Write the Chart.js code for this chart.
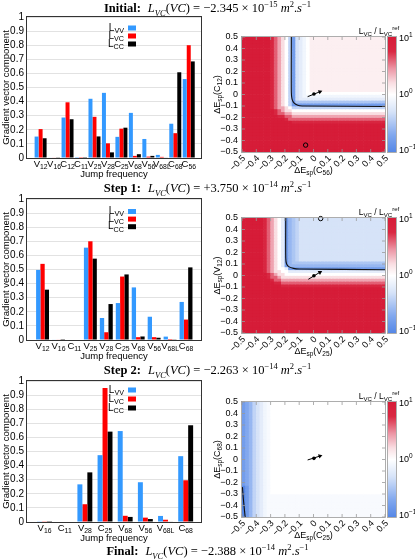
<!DOCTYPE html>
<html>
<head>
<meta charset="utf-8">
<script src="https://cdn.jsdelivr.net/npm/chart.js@4.4.0/dist/chart.umd.min.js"></script>
<style>
  body { margin: 0; width: 415px; height: 559px; background: #fff; position: relative; overflow: hidden; }
  canvas { position: absolute; }
  .ttl { position: absolute; left: 0; width: 415px; text-align: center; font-family: 'Liberation Serif', 'DejaVu Serif', serif;
         font-size: 12.5px; line-height: 14px; white-space: nowrap; z-index: 5; color: #000; }
  .ttl sub, .ttl sup { font-size: 8.5px; line-height: 0; }
  .ttl b { margin-right: 7px; }
</style>
</head>
<body>
<div class="ttl" id="t0" style="top:1px"></div>
<div class="ttl" id="t1" style="top:181px"></div>
<div class="ttl" id="t2" style="top:363px"></div>
<div class="ttl" id="t3" style="top:544px"></div>

<canvas id="b1" width="205" height="181" style="left:0;top:5px"></canvas>
<canvas id="b2" width="205" height="181" style="left:0;top:187px"></canvas>
<canvas id="b3" width="205" height="181" style="left:0;top:369px"></canvas>
<canvas id="h1" width="210" height="160" style="left:205px;top:22px"></canvas>
<canvas id="h2" width="210" height="160" style="left:205px;top:203px"></canvas>
<canvas id="h3" width="210" height="160" style="left:205px;top:387px"></canvas>

<script>
// ---- titles ----
const stepNames = ['Initial:', 'Step 1:', 'Step 2:', 'Final:'];
const lvcMant = ['−2.345', '+3.750', '−2.263', '−2.388'];
const lvcExp = ['−15', '−14', '−14', '−14'];

// ---- bar charts (gradient vector components) ----
const seriesNames = ['L_{VV}', 'L_{VC}', 'L_{CC}'];
const seriesColors = ['#3399ff', '#ff0000', '#000000'];

const cats1 = ['V_{12}', 'V_{16}', 'C_{12}', 'C_{11}', 'V_{25}', 'V_{28}', 'C_{25}', 'V_{68}', 'V_{56}', 'V_{68L}', 'C_{68}', 'C_{56}'];
const vv1 = [0.152, 0.004, 0.287, 0.001, 0.420, 0.462, 0.150, 0.320, 0.135, 0.022, 0.243, 0.560];
const vc1 = [0.205, 0.003, 0.395, 0.001, 0.292, 0.104, 0.208, 0.015, 0.010, 0.008, 0.176, 0.800];
const cc1 = [0.140, 0.002, 0.275, 0.001, 0.153, 0.040, 0.215, 0.027, 0.015, 0.003, 0.608, 0.685];

const cats2 = ['V_{12}', 'V_{16}', 'C_{11}', 'V_{25}', 'V_{28}', 'C_{25}', 'V_{68}', 'V_{56}', 'V_{68L}', 'C_{68}'];
const vv2 = [0.497, 0.004, 0, 0.655, 0.156, 0.262, 0.373, 0.165, 0.024, 0.270];
const vc2 = [0.540, 0.003, 0, 0.700, 0.055, 0.450, 0.020, 0.020, 0.007, 0.145];
const cc2 = [0.357, 0.001, 0, 0.577, 0.255, 0.465, 0.025, 0.016, 0.002, 0.515];

const cats3 = ['V_{16}', 'C_{11}', 'V_{28}', 'C_{25}', 'V_{68}', 'V_{56}', 'V_{68L}', 'C_{68}'];
const vv3 = [0.005, 0, 0.267, 0.474, 0.645, 0.282, 0.043, 0.467];
const vc3 = [0.002, 0, 0.126, 0.951, 0.044, 0.031, 0.016, 0.296];
const cc3 = [0.001, 0, 0.352, 0.641, 0.036, 0.021, 0.004, 0.686];

// ---- heat maps: L_VC / L_VC^ref, one letter per cell (a = 10^-1, k = 10^0, u = 10^1,
//      capital = half a step above), run-length coded, rows from top ----
const heat1 = [
  'u8 s q o m k g c h i j k l21', 'u8 s q o m k g c h i j k l21', 'u8 s q o m k g c h i j k l21',
  'u8 s q o m k g c h i j k l21', 'u8 s q o m k g c h i j k l21', 'u8 s q o m k g c h i j k l21',
  'u8 s q o m k g c h i j k l21', 'u8 s q o m k g c h i j k l21', 'u8 s q o m k g c h i j k l21',
  'u8 s q o m k g c h i j k l21', 'u8 s q o m k g c h i j k l21', 'u8 s q o m k g c h i j k l21',
  'u8 s q o m k g c h i j k l21', 'u8 s q o m k g c h i j k l21', 'u8 s q o m k g c h i j k l21',
  'u8 s q o m k g c h i j k l21', 'u8 s q o m k g c h i j k l21', 'u8 s q o m k g c h i j k l21',
  'u8 s q o m k g c h i j k l21',
  'u8 s q o m k g c h i j k22',
  'u8 s q o m k g c h i j23',
  'u8 s q o m k g c h i24',
  'u8 s q o m k g c f25',
  'u8 s q o m k g c26',
  'u8 s q o o m k g26',
  'u9 s q o m m k26',
  'u9 s q q o o m26',
  'u10 s s q q o26',
  'u12 s q27',
  'u14 s26',
  'u40', 'u40', 'u40', 'u40', 'u40', 'u40', 'u40', 'u40', 'u40', 'u40'
];
const heat2 = [
  'u6 s q o m k i c e f g h24', 'u6 s q o m k i c e f g h24', 'u6 s q o m k i c e f g h24',
  'u6 s q o m k i c e f g h24', 'u6 s q o m k i c e f g h24', 'u6 s q o m k i c e f g h24',
  'u6 s q o m k i c e f g h24', 'u6 s q o m k i c e f g h24', 'u6 s q o m k i c e f g h24',
  'u6 s q o m k i c e f g h24', 'u6 s q o m k i c e f g h24', 'u6 s q o m k i c e f g h24',
  'u6 s q o m k i c e f g h24', 'u6 s q o m k i c e f g h24', 'u6 s q o m k i c e f g h24',
  'u6 s q o m k i c e f26',
  'u6 s q o m k i c e27',
  'u6 s q o m k k i c27',
  'u6 s q o m m k k i27',
  'u7 s q o m m k28',
  'u7 s q q o m29',
  'u8 s q q o29',
  'u9 s s q29',
  'u11 s29',
  'u40', 'u40', 'u40', 'u40', 'u40', 'u40', 'u40', 'u40',
  'u40', 'u40', 'u40', 'u40', 'u40', 'u40', 'u40', 'u40'
];
const heat3 = [
  'c d e g h i j J k32', 'c d e g h i j J k32', 'c d e g h i j J k32', 'c d e g h i j J k32',
  'c d e g h i j J k32', 'c d e g h i j J k32', 'c d e g h i j J k32', 'c d e g h i j J k32',
  'c d e g h i j J k32', 'c d e g h i j J k32', 'c d e g h i j J k32', 'c d e g h i j J k32',
  'c d e g h i j J k32', 'c d e g h i j J k32', 'c d e g h i j J k32', 'c d e g h i j J k32',
  'c d e g h i j J k32', 'c d e g h i j J k32', 'c d e g h i j J k32', 'c d e g h i j J k32',
  'c d e g h i j J k32', 'c d e g h i j J k32', 'c d e g h i j J k32', 'c d e g h i j J k32',
  'c d e g h i j J k32', 'c d e g h i j J k32', 'c d e g h i j J k32', 'c d e g h i j J k32',
  'c d e g h i j J k32',
  'a c e g h i j J k32', 'a c e g h i j J k32', 'a c e g h i j J k32',
  'a c e g h i j J33', 'a c e g h i j J33', 'a c e g h i j J33', 'a c e g h i j J33',
  'a c e g h i j J33', 'a c e g h i j J33', 'a c e g h i j J33', 'a c e g h i j J33'
];

// zero-crossing contours, arrows and markers (data units)
const contour1 = [{x: -0.155, y: 0.5}, {x: -0.155, y: 0.02}, {x: -0.150, y: -0.04}, {x: -0.135, y: -0.075}, {x: -0.11, y: -0.094}, {x: -0.08, y: -0.100}, {x: 0.5, y: -0.104}];
const contour2 = [{x: -0.194, y: 0.5}, {x: -0.194, y: 0.15}, {x: -0.188, y: 0.10}, {x: -0.17, y: 0.075}, {x: -0.14, y: 0.062}, {x: -0.10, y: 0.057}, {x: 0.5, y: 0.050}];
const contour3 = [{x: -0.497, y: -0.24}, {x: -0.490, y: -0.35}, {x: -0.478, y: -0.5}];
const arrow1 = [{x: -0.041, y: -0.019}, {x: 0.045, y: 0.024}];
const arrow2 = [{x: -0.036, y: -0.033}, {x: 0.045, y: 0.028}];
const arrow3 = [{x: -0.041, y: -0.004}, {x: 0.045, y: 0.030}];
const dot1 = [{x: 0.003, y: 0.004}];
const dot2 = [{x: 0.003, y: -0.002}];
const dot3 = [{x: 0.003, y: 0.010}];
const marker1 = [{x: -0.055, y: -0.44}];
const marker2 = [{x: 0.05, y: 0.495}];
const marker3 = [];

const heatX = ['ΔE_{sp}(C_{56})', 'ΔE_{sp}(V_{25})', 'ΔE_{sp}(C_{25})'];
const heatY = ['ΔE_{sp}(C_{12})', 'ΔE_{sp}(V_{12})', 'ΔE_{sp}(C_{68})'];
const cbarLabels = ['10^{1}', '10^{0}', '10^{−1}'];

// ---- helpers ----
const FONT = "'Liberation Sans', Arial, sans-serif";

stepNames.forEach((s, k) => {
  document.getElementById('t' + k).innerHTML =
    '<b>' + s + '</b><i>L</i><sub><i>VC</i></sub>(<i>VC</i>) = ' + lvcMant[k] +
    ' × 10<sup>' + lvcExp[k] + '</sup> <i>m</i><sup>2</sup>.<i>s</i><sup>−1</sup>';
});

function parseRich(s) {
  const out = [];
  const re = /([_^])\{([^}]*)\}|([^_^]+)/g;
  let m;
  while ((m = re.exec(s))) out.push(m[3] !== undefined ? [m[3], ''] : [m[2], m[1] === '_' ? 'sub' : 'sup']);
  return out;
}

function drawRich(ctx, s, x, y, size, align, angle) {
  const parts = parseRich(s);
  const fs = k => (k ? size * 0.72 : size);
  ctx.save();
  ctx.translate(x, y);
  if (angle) ctx.rotate(angle);
  let w = 0;
  parts.forEach(([t, k]) => { ctx.font = fs(k) + 'px ' + FONT; w += ctx.measureText(t).width; });
  let cx = align === 'center' ? -w / 2 : align === 'right' ? -w : 0;
  ctx.textBaseline = 'middle';
  ctx.textAlign = 'left';
  ctx.fillStyle = '#000';
  parts.forEach(([t, k]) => {
    ctx.font = fs(k) + 'px ' + FONT;
    const dy = k === 'sub' ? size * 0.3 : k === 'sup' ? -size * 0.42 : 0;
    ctx.fillText(t, cx, dy);
    cx += ctx.measureText(t).width;
  });
  ctx.restore();
}

function decodeRow(s) {
  let out = '';
  s.split(' ').forEach(tok => { out += tok[0].repeat(tok.length > 1 ? parseInt(tok.slice(1), 10) : 1); });
  return out;
}
const level = ch => {
  const lo = ch.toLowerCase();
  return (lo.charCodeAt(0) - 107) / 10 + (ch !== lo ? 0.05 : 0);
};

const cmapStops = [
  [-1.0, [85, 135, 230]],
  [-0.7, [130, 168, 238]],
  [-0.3, [214, 227, 248]],
  [0.0, [255, 255, 255]],
  [0.2, [249, 222, 226]],
  [0.45, [236, 150, 165]],
  [0.75, [217, 40, 66]],
  [1.0, [214, 28, 56]]
];
function cmap(t) {
  t = Math.max(-1, Math.min(1, t));
  for (let i = 1; i < cmapStops.length; i++) {
    const [t1, c1] = cmapStops[i];
    const [t0, c0] = cmapStops[i - 1];
    if (t <= t1) {
      const f = (t - t0) / (t1 - t0);
      return 'rgb(' + c0.map((c, k) => Math.round(c + (c1[k] - c) * f)).join(',') + ')';
    }
  }
  return 'rgb(214,28,56)';
}

// ---- bar charts ----
const barLayouts = [
  {min: -1.01, max: 11.91, cat: 0.89, legTop: 11, legStep: 8},
  {min: -0.975, max: 9.94, cat: 0.81, legTop: 12.5, legStep: 7.6},
  {min: -0.87, max: 7.76, cat: 0.74, legTop: 9, legStep: 9}
];

function barDeco(cats, lay) {
  return {
    id: 'barDeco',
    afterDraw(chart) {
      const {ctx, chartArea: a} = chart;
      const x = chart.scales.x;
      ctx.save();
      ctx.strokeStyle = '#333';
      ctx.lineWidth = 1;
      ctx.strokeRect(Math.round(a.left) - 0.5, Math.round(a.top) - 0.5, Math.round(a.right - a.left) + 1, Math.round(a.bottom - a.top) + 1);
      cats.forEach((c, i) => drawRich(ctx, c, x.getPixelForValue(i), a.bottom + 6.5, 9.5, 'center', 0));
      drawRich(ctx, 'Jump frequency', (a.left + a.right) / 2, a.bottom + 16.5, 9.5, 'center', 0);
      drawRich(ctx, 'Gradient vector component', 6, (a.top + a.bottom) / 2, 9.5, 'center', -Math.PI / 2);
      seriesNames.forEach((s, k) => {
        const yy = a.top + lay.legTop + k * lay.legStep;
        drawRich(ctx, s, 124, yy, 10, 'right', 0);
        ctx.fillStyle = seriesColors[k];
        ctx.fillRect(128, yy - 2.5, 8, 5);
      });
      ctx.restore();
    }
  };
}

const fmtBar = v => {
  const r = Math.round(v * 10) / 10;
  return r === 0 ? '0' : r === 1 ? '1' : r.toFixed(1);
};

function makeBars(id, cats, series, lay) {
  new Chart(document.getElementById(id), {
    type: 'bar',
    data: {
      datasets: series.map((vals, k) => ({
        label: seriesNames[k],
        data: vals.map((v, i) => ({x: i, y: v})),
        backgroundColor: seriesColors[k],
        borderWidth: 0,
        categoryPercentage: lay.cat,
        barPercentage: 1
      }))
    },
    options: {
      responsive: false, animation: false, events: [], devicePixelRatio: 1,
      layout: {padding: {top: 12, right: 4, left: 0, bottom: 0}},
      plugins: {legend: {display: false}, tooltip: {enabled: false}},
      scales: {
        x: {
          type: 'linear', min: lay.min, max: lay.max, offset: false,
          grid: {display: false, drawTicks: false}, border: {display: false},
          ticks: {display: false},
          afterBuildTicks: s => { s.ticks = []; },
          afterFit: s => { s.height = 28; }
        },
        y: {
          min: 0, max: 1,
          ticks: {stepSize: 0.1, autoSkip: false, color: '#000', padding: 3, font: {family: FONT, size: 10}, callback: fmtBar},
          grid: {color: '#e2e2e2', drawTicks: false}, border: {display: false},
          afterFit: s => { s.width = 27; }
        }
      }
    },
    plugins: [barDeco(cats, lay)]
  });
}

makeBars('b1', cats1, [vv1, vc1, cc1], barLayouts[0]);
makeBars('b2', cats2, [vv2, vc2, cc2], barLayouts[1]);
makeBars('b3', cats3, [vv3, vc3, cc3], barLayouts[2]);

// ---- heat maps ----
const fmtTick = v => {
  const r = Math.round(v * 10) / 10;
  return r === 0 ? '0' : (r < 0 ? '−' : '') + Math.abs(r).toFixed(1);
};

function heatDeco(xTitle, yTitle) {
  return {
    id: 'heatDeco',
    afterDraw(chart) {
      const {ctx, chartArea: a} = chart;
      const {x, y} = chart.scales;
      ctx.save();
      ctx.strokeStyle = '#9a9a9a';
      ctx.lineWidth = 0.8;
      ctx.beginPath();
      x.ticks.forEach(t => {
        const p = x.getPixelForValue(t.value);
        ctx.moveTo(p, a.bottom); ctx.lineTo(p, a.bottom - 3);
        ctx.moveTo(p, a.top); ctx.lineTo(p, a.top + 3);
      });
      y.ticks.forEach(t => {
        const p = y.getPixelForValue(t.value);
        ctx.moveTo(a.left, p); ctx.lineTo(a.left + 3, p);
        ctx.moveTo(a.right, p); ctx.lineTo(a.right - 3, p);
      });
      ctx.stroke();
      ctx.strokeRect(a.left - 0.5, a.top - 0.5, a.right - a.left + 1, a.bottom - a.top + 1);

      // rotated x tick labels
      ctx.fillStyle = '#000';
      ctx.font = '9px ' + FONT;
      ctx.textAlign = 'right';
      ctx.textBaseline = 'middle';
      x.ticks.forEach(t => {
        ctx.save();
        ctx.translate(x.getPixelForValue(t.value) + 2, a.bottom + 5);
        ctx.rotate(-Math.PI / 4);
        ctx.fillText(fmtTick(t.value), 0, 0);
        ctx.restore();
      });

      // colour bar
      const cx = a.right + 3, cw = 8;
      for (let py = Math.floor(a.top); py < a.bottom; py++) {
        ctx.fillStyle = cmap(1 - 2 * (py + 0.5 - a.top) / (a.bottom - a.top));
        ctx.fillRect(cx, py, cw, 1);
      }
      ctx.strokeRect(cx - 0.5, a.top - 0.5, cw + 1, a.bottom - a.top + 1);
      drawRich(ctx, cbarLabels[0], cx + cw + 3, a.top + 2, 9, 'left', 0);
      drawRich(ctx, cbarLabels[1], cx + cw + 3, (a.top + a.bottom) / 2, 9, 'left', 0);
      drawRich(ctx, cbarLabels[2], cx + cw + 3, a.bottom - 1, 9, 'left', 0);
      drawRich(ctx, 'L_{VC} / L_{VC}^{ref}', a.right - 6, a.top - 5.5, 8.5, 'center', 0);

      drawRich(ctx, xTitle, (a.left + a.right) / 2, a.bottom + 19, 9, 'center', 0);
      drawRich(ctx, yTitle, 13, (a.top + a.bottom) / 2, 9, 'center', -Math.PI / 2);
      ctx.restore();
    }
  };
}

function makeHeat(id, rows, contour, arrow, arrowRot, dot, marker, xTitle, yTitle) {
  const grid = rows.map(decodeRow);
  const nRow = grid.length, nCol = grid[0].length;
  const cw = 1 / nCol, ch = 1 / nRow;
  const cells = grid.map((row, j) => ({
    type: 'bar', order: 2,
    data: [...row].map((c, i) => ({x: -0.5 + cw * (i + 0.5), y: [0.5 - ch * (j + 1), 0.5 - ch * j]})),
    backgroundColor: [...row].map(c => cmap(level(c))),
    borderWidth: 0, grouped: false, barPercentage: 1, categoryPercentage: 1
  }));
  const overlays = [
    {type: 'line', order: 0, data: contour, borderColor: '#111', borderWidth: 1.1, pointRadius: 0, tension: 0.3, fill: false},
    {type: 'line', order: 0, data: arrow, borderColor: '#000', borderWidth: 1, pointRadius: [0, 2.6],
     pointStyle: 'triangle', pointRotation: arrowRot, pointBackgroundColor: '#000', pointBorderWidth: 0, fill: false},
    {type: 'scatter', order: 0, data: dot, pointRadius: 1.8, backgroundColor: '#000', borderWidth: 0},
    {type: 'scatter', order: 0, data: marker, pointRadius: 2.2, backgroundColor: 'rgba(0,0,0,0)', borderColor: '#000', borderWidth: 1, clip: false}
  ];
  new Chart(document.getElementById(id), {
    type: 'bar',
    data: {datasets: overlays.concat(cells)},
    options: {
      responsive: false, animation: false, events: [], devicePixelRatio: 1,
      layout: {padding: {top: 15, right: 30, left: 0, bottom: 0}},
      plugins: {legend: {display: false}, tooltip: {enabled: false}},
      scales: {
        x: {
          type: 'linear', min: -0.5, max: 0.5, offset: false,
          grid: {display: false, drawTicks: false, offset: false}, border: {display: false},
          ticks: {stepSize: 0.1, autoSkip: false, display: false},
          afterFit: s => { s.height = 30; }
        },
        y: {
          min: -0.5, max: 0.5,
          grid: {display: false, drawTicks: false}, border: {display: false},
          ticks: {stepSize: 0.1, autoSkip: false, padding: 4, color: '#000', font: {family: FONT, size: 9}, callback: fmtTick},
          afterFit: s => { s.width = 37; }
        }
      }
    },
    plugins: [heatDeco(xTitle, yTitle)]
  });
}

makeHeat('h1', heat1, contour1, arrow1, 68, dot1, marker1, heatX[0], heatY[0]);
makeHeat('h2', heat2, contour2, arrow2, 59, dot2, marker2, heatX[1], heatY[1]);
makeHeat('h3', heat3, contour3, arrow3, 72, dot3, marker3, heatX[2], heatY[2]);
</script>
</body>
</html>
